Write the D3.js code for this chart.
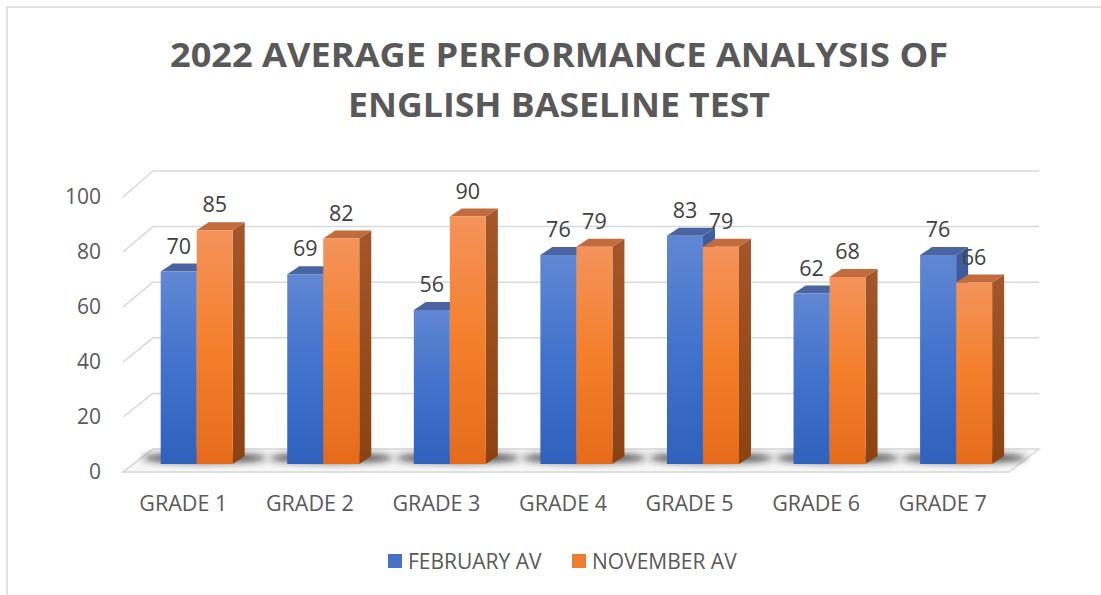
<!DOCTYPE html>
<meta charset="utf-8">
<head>
  <style>
    body { margin: 0; background: #fff; }
    text { font-family: "Open Sans", "Noto Sans", sans-serif; }
  </style>
</head>
<body>
<div id="my_dataviz"></div>
<script src="https://d3js.org/d3.v7.min.js"></script>
<script>

var categories = ["GRADE 1", "GRADE 2", "GRADE 3", "GRADE 4", "GRADE 5", "GRADE 6", "GRADE 7"];
var seriesNames = ["FEBRUARY AV", "NOVEMBER AV"];
var februaryAv = [70, 69, 56, 76, 83, 62, 76];
var novemberAv = [85, 82, 90, 79, 79, 68, 66];
var yTicks = [0, 20, 40, 60, 80, 100];
var titleLines = ["2022 AVERAGE PERFORMANCE ANALYSIS OF", "ENGLISH BASELINE TEST"];

var W = 1101, H = 595;

var svg = d3.select("#my_dataviz")
  .append("svg")
    .attr("width", W)
    .attr("height", H);

var defs = svg.append("defs");

// gradients for the faces
function vGrad(id, stops) {
  var g = defs.append("linearGradient").attr("id", id)
    .attr("x1", 0).attr("y1", 0).attr("x2", 0).attr("y2", 1);
  stops.forEach(function(s) {
    g.append("stop").attr("offset", s[0]).attr("stop-color", s[1]);
  });
}
vGrad("blueFront", [[0, "#6187d3"], [0.5, "#4172cc"], [1, "#2f61bd"]]);
vGrad("blueSide", [[0, "#3f5d9f"], [1, "#2c4c8c"]]);
vGrad("orangeFront", [[0, "#f4935b"], [0.5, "#f47f2b"], [1, "#e56b1b"]]);
vGrad("orangeSide", [[0, "#a3572a"], [1, "#8c4210"]]);

var faces = [
  {front: "url(#blueFront)", side: "url(#blueSide)", top: "#4a64a2", legend: "#4472c4"},
  {front: "url(#orangeFront)", side: "url(#orangeSide)", top: "#c26b3d", legend: "#ed7d31"}
];

defs.append("filter").attr("id", "blur")
  .attr("x", "-50%").attr("y", "-200%").attr("width", "200%").attr("height", "500%")
  .append("feGaussianBlur").attr("stdDeviation", 3.5);

// chart frame
svg.append("rect")
  .attr("x", 7).attr("y", 7)
  .attr("width", W + 10).attr("height", H + 10)
  .attr("fill", "none").attr("stroke", "#d9d9d9").attr("stroke-width", 1.5);

// title
svg.selectAll(".title")
  .data(titleLines)
  .enter()
  .append("text")
    .attr("x", 559)
    .attr("y", function(d, i) { return 67 + i * 50; })
    .attr("text-anchor", "middle")
    .attr("textLength", function(d, i) { return i == 0 ? 778 : 422; })
    .attr("lengthAdjust", "spacingAndGlyphs")
    .style("font-size", "34px")
    .style("font-weight", "bold")
    .attr("fill", "#595959")
    .text(function(d) { return d; });

// 3D layout: back wall, wall->front offset, bar front plane
var backLeft = 153, backRight = 1039;
var wallDx = -30, wallDy = 23;
var barShiftX = -19.6;
var depthDx = 12, depthDy = -8;

var x = d3.scaleBand()
  .domain(categories)
  .range([backLeft, backRight])
  .paddingInner(0.431)
  .paddingOuter(0.2155);

var xs = d3.scaleBand()
  .domain(seriesNames)
  .range([0, x.bandwidth()]);

var yBack = d3.scaleLinear().domain([0, 100]).range([449, 171]);
var yFront = d3.scaleLinear().domain([0, 100]).range([472, 197]);
var yBar = d3.scaleLinear().domain([0, 100]).range([464, 189]);

// floor
svg.append("polygon")
  .attr("points", [
    [backLeft, yBack(0)], [backRight, yBack(0)],
    [backRight + wallDx, yFront(0)], [backLeft + wallDx, yFront(0)]
  ].map(function(p) { return p.join(","); }).join(" "))
  .attr("fill", "#f7f7f7")
  .attr("stroke", "#d9d9d9")
  .attr("stroke-width", 1.5);

// gridlines on back wall + side wall
var grid = svg.append("g").attr("stroke", "#d9d9d9").attr("stroke-width", 1.5);
grid.selectAll(".gb")
  .data(yTicks.slice(1))
  .enter()
  .append("line")
    .attr("x1", backLeft).attr("x2", backRight)
    .attr("y1", function(d) { return yBack(d); })
    .attr("y2", function(d) { return yBack(d); });
grid.selectAll(".gs")
  .data(yTicks)
  .enter()
  .append("line")
    .attr("x1", backLeft + wallDx).attr("x2", backLeft)
    .attr("y1", function(d) { return yFront(d); })
    .attr("y2", function(d) { return yBack(d); });

// y axis labels
var yAxis = svg.append("g")
  .attr("transform", "translate(101,0)")
  .call(d3.axisLeft(yFront).tickValues(yTicks).tickSize(0).tickPadding(0));
yAxis.select(".domain").remove();
yAxis.selectAll("text")
  .style("font-size", "21px")
  .style("font-family", "'Open Sans', sans-serif")
  .attr("fill", "#595959");

// x axis labels
var xAxis = svg.append("g")
  .attr("transform", "translate(" + (wallDx - 3) + ",511)")
  .call(d3.axisBottom(x).tickSize(0).tickPadding(0));
xAxis.select(".domain").remove();
xAxis.selectAll("text")
  .attr("dy", 0)
  .style("font-size", "21.5px")
  .style("font-family", "'Open Sans', sans-serif")
  .attr("fill", "#595959");

// shadows on floor
svg.append("g").attr("filter", "url(#blur)")
  .selectAll("ellipse")
  .data(categories)
  .enter()
  .append("ellipse")
    .attr("cx", function(d) { return x(d) + barShiftX + x.bandwidth() / 2 + 8; })
    .attr("cy", 458)
    .attr("rx", 62)
    .attr("ry", 5)
    .attr("fill", "#1e1e1e")
    .attr("opacity", 0.8);

// bars (left to right so later faces cover earlier sides)
var barData = [];
categories.forEach(function(c, i) {
  barData.push({cat: c, s: 0, v: februaryAv[i]});
  barData.push({cat: c, s: 1, v: novemberAv[i]});
});

var bars = svg.selectAll(".bar")
  .data(barData)
  .enter()
  .append("g");

function px(d) { return x(d.cat) + barShiftX + xs(seriesNames[d.s]); }

bars.append("polygon")  // side
  .attr("points", function(d) {
    var x1 = px(d) + xs.bandwidth(), y0 = yBar(0), yt = yBar(d.v);
    return [[x1, y0], [x1 + depthDx, y0 + depthDy], [x1 + depthDx, yt + depthDy], [x1, yt]].join(" ");
  })
  .attr("fill", function(d) { return faces[d.s].side; });

bars.append("polygon")  // top
  .attr("points", function(d) {
    var x0 = px(d), x1 = x0 + xs.bandwidth(), yt = yBar(d.v);
    return [[x0, yt], [x1, yt], [x1 + depthDx, yt + depthDy], [x0 + depthDx, yt + depthDy]].join(" ");
  })
  .attr("fill", function(d) { return faces[d.s].top; });

bars.append("rect")  // front
  .attr("x", px)
  .attr("width", xs.bandwidth())
  .attr("y", function(d) { return yBar(d.v); })
  .attr("height", function(d) { return yBar(0) - yBar(d.v); })
  .attr("fill", function(d) { return faces[d.s].front; });

// value labels
svg.selectAll(".lbl")
  .data(barData)
  .enter()
  .append("text")
    .attr("x", function(d) { return px(d) + xs.bandwidth() / 2; })
    .attr("y", function(d) { return yBar(d.v) - 18; })
    .attr("text-anchor", "middle")
    .style("font-size", "21.5px")
    .attr("fill", "#404040")
    .text(function(d) { return d.v; });

// legend
var legendX = [388, 572];
var lg = svg.selectAll(".leg")
  .data(seriesNames)
  .enter()
  .append("g")
    .attr("transform", function(d, i) { return "translate(" + legendX[i] + ",554)"; });
lg.append("rect")
  .attr("width", 14).attr("height", 14)
  .attr("fill", function(d, i) { return faces[i].legend; });
lg.append("text")
  .attr("x", 20).attr("y", 7)
  .attr("dominant-baseline", "central")
  .style("font-size", "21px")
  .attr("fill", "#595959")
  .text(function(d) { return d; });

</script>
</body>
